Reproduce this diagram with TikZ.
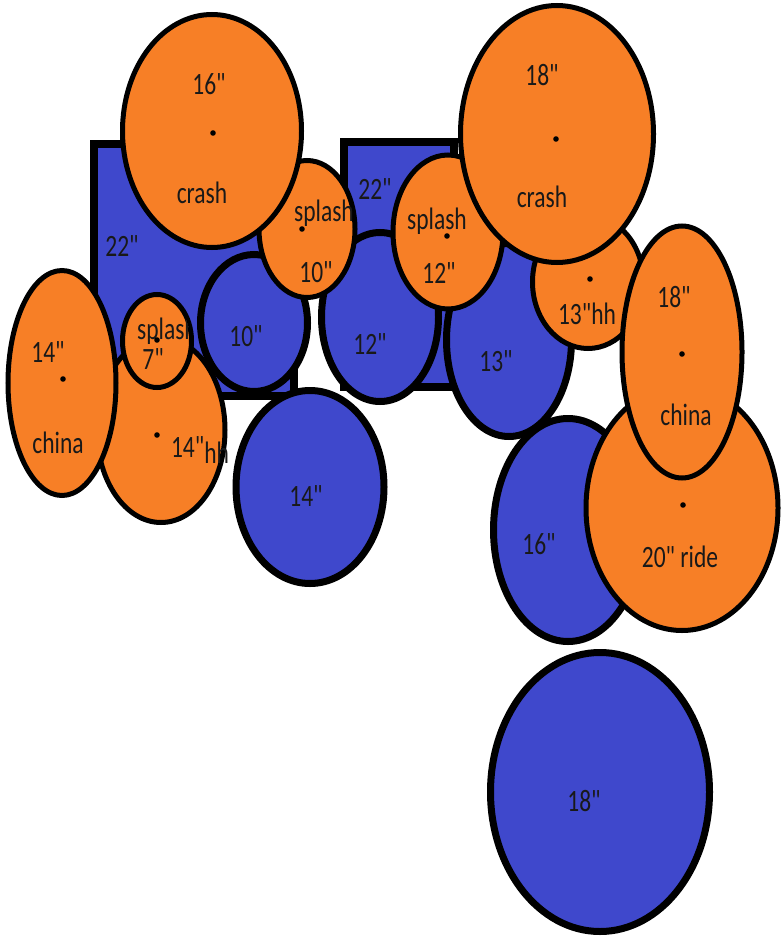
\documentclass[tikz,border=0pt]{standalone}
\usepackage{fontspec}
\setmainfont{Carlito}[Ligatures=TeXOff]
\usetikzlibrary{shapes.geometric}
\definecolor{drumblue}{RGB}{63,72,204}
\definecolor{cymorange}{RGB}{247,127,38}
\newcommand{\tall}[1]{\scalebox{1}[1.32]{#1}}

\begin{document}
\begin{tikzpicture}[x=1pt, y=-1pt, every node/.style={inner sep=0,outer sep=0},
		kick/.style={rectangle, draw=black, fill=drumblue, line width=8pt},
		drum/.style={ellipse, draw=black, fill=drumblue, line width=7pt},
		cym/.style={ellipse, draw=black, fill=cymorange, line width=5pt},
		lbl/.style={font=\fontsize{23.5}{24}\selectfont, text=black!90}]
		
		\useasboundingbox (0,0) rectangle (782,939);
		
		%Bass drums
		\node[kick, minimum width=200, minimum height=252] (kickL) at (194,270) {};
		\node[lbl] (kickL22) at (122,246) {\tall{22"}};
		\node[kick, minimum width=110, minimum height=245] (kickR) at (399,264) {};
		\node[lbl] (kickR22) at (375,189) {\tall{22"}};
		
		%Left side
		\node[cym, minimum width=128, minimum height=185] (hh14) at (161,430) {};
		\fill (157,435) circle (2.8pt);
		\node[lbl] (hh14lbl) at (200,450) {\tall{14"\raisebox{-4pt}{hh}}};
		\node[cym, minimum width=108, minimum height=225] (china14) at (62,383) {};
		\fill (63,379) circle (2.8pt);
		\node[lbl] (china14size) at (48,352) {\tall{14"}};
		\node[lbl] (china14name) at (58,443) {\tall{china}};
		\node[cym, minimum width=69, minimum height=93] (splash7) at (157,341) {};
		\begin{scope}
			\clip (157,341) ellipse (33pt and 45pt);
			\node[lbl] (splash7name) at (167,331) {\tall{splash}};
		\end{scope}
		\fill (157,340) circle (2.8pt);
		\node[lbl] (splash7size) at (153,359) {\tall{7"}};
		
		%Toms
		\node[drum, minimum width=107, minimum height=137] (tom10) at (254,323) {};
		\node[lbl] (tom10lbl) at (246,336) {\tall{10"}};
		\node[drum, minimum width=117, minimum height=169] (tom12) at (380,317) {};
		\node[lbl] (tom12lbl) at (370,344) {\tall{12"}};
		\node[cym, minimum width=96, minimum height=137] (splash10) at (307,229) {};
		\fill (302,229) circle (2.8pt);
		\node[lbl] (splash10name) at (324,213) {\tall{splash}};
		\node[lbl] (splash10size) at (316,272) {\tall{10"}};
		\node[cym, minimum width=179, minimum height=233] (crash16) at (212,131) {};
		\fill (213,133) circle (2.8pt);
		\node[lbl] (crash16size) at (209,84) {\tall{16"}};
		\node[lbl] (crash16name) at (202,193) {\tall{crash}};
		\node[drum, minimum width=125, minimum height=193] (tom13) at (509,340) {};
		\node[lbl] (tom13lbl) at (496,361) {\tall{13"}};
		\node[cym, minimum width=111, minimum height=133] (hh13) at (588,282) {};
		\fill (590,279) circle (2.8pt);
		\node[lbl] (hh13lbl) at (587,314) {\tall{13"hh}};
		\node[cym, minimum width=110, minimum height=154] (splash12) at (448,232) {};
		\fill (447,236) circle (2.8pt);
		\node[lbl] (splash12name) at (437,221) {\tall{splash}};
		\node[lbl] (splash12size) at (439,273) {\tall{12"}};
		\node[cym, minimum width=193, minimum height=257] (crash18) at (557,134) {};
		\fill (556,139) circle (2.8pt);
		\node[lbl] (crash18size) at (542,75) {\tall{18"}};
		\node[lbl] (crash18name) at (542,197) {\tall{crash}};
		
		%Snare and floor toms
		\node[drum, minimum width=148, minimum height=193] (snare14) at (310,487) {};
		\node[lbl] (snare14lbl) at (306,496) {\tall{14"}};
		\node[drum, minimum width=149, minimum height=223] (floor16) at (568,530) {};
		\node[lbl] (floor16lbl) at (539,544) {\tall{16"}};
		\node[cym, minimum width=192, minimum height=245] (ride20) at (682,508) {};
		\fill (683,505) circle (2.8pt);
		\node[lbl] (ride20lbl) at (680,557) {\tall{20" ride}};
		\node[cym, minimum width=120, minimum height=252] (china18) at (682,352) {};
		\fill (682,354) circle (2.8pt);
		\node[lbl] (china18size) at (674,297) {\tall{18"}};
		\node[lbl] (china18name) at (686,415) {\tall{china}};
		\node[drum, minimum width=219, minimum height=279] (floor18) at (600,792) {};
		\node[lbl] (floor18lbl) at (584,801) {\tall{18"}};
	\end{tikzpicture}
\end{document}
